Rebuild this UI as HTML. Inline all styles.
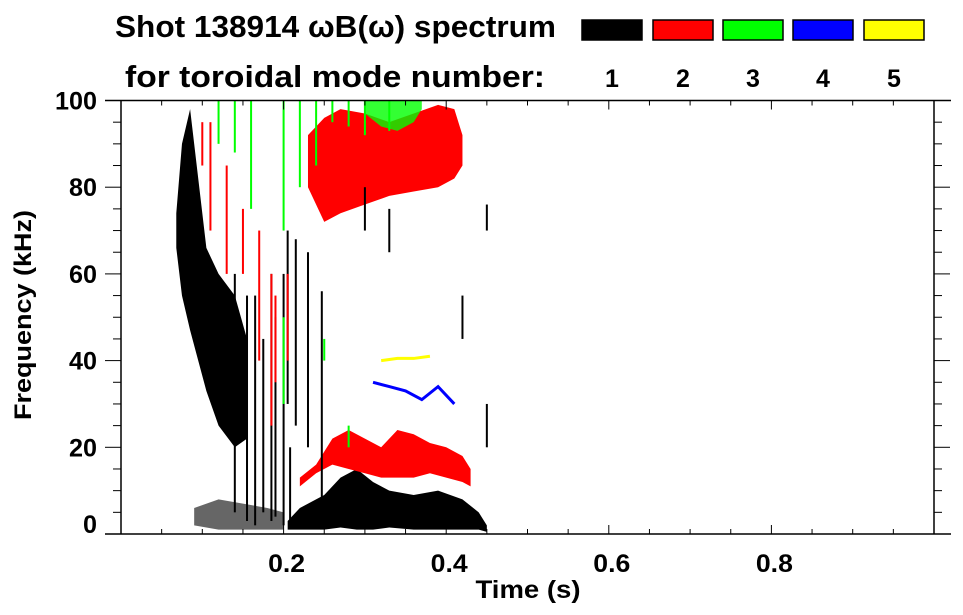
<!DOCTYPE html>
<html><head><meta charset="utf-8">
<style>
body{margin:0;background:#fff;}
svg{display:block;font-family:"Liberation Sans",sans-serif;font-weight:bold;}
</style></head>
<body>
<svg id="chart" width="963" height="615" viewBox="0 0 963 615">
<text x="115" y="37" font-size="31" textLength="441" lengthAdjust="spacingAndGlyphs">Shot 138914 ωB(ω) spectrum</text>
<text x="125" y="87" font-size="31" textLength="420" lengthAdjust="spacingAndGlyphs">for toroidal mode number:</text>
<g id="legend"></g>
<g id="marks"></g>
<g id="axes"></g>
<text x="528" y="598" font-size="25" text-anchor="middle" textLength="105" lengthAdjust="spacingAndGlyphs">Time (s)</text>
<text transform="translate(31,315) rotate(-90)" font-size="24" text-anchor="middle" textLength="210" lengthAdjust="spacingAndGlyphs">Frequency (kHz)</text>
</svg>
<script>
const modes = ['1','2','3','4','5'];
const modeColors = ['#000000','#ff0000','#00ff00','#0000ff','#ffff00'];
const xTicks = [0.2,0.4,0.6,0.8];
const yTicks = [0,20,40,60,80,100];
// band regions: mode index, times, lower freq, upper freq
const bandMode = [0,0,0,1,1,2];
const bandT = [
 [0.068,0.075,0.085,0.095,0.105,0.12,0.14,0.155],
 [0.205,0.22,0.25,0.27,0.29,0.31,0.33,0.36,0.39,0.42,0.44,0.45],
 [0.09,0.12,0.15,0.18,0.2],
 [0.23,0.25,0.27,0.30,0.33,0.36,0.39,0.41,0.42],
 [0.22,0.24,0.26,0.28,0.30,0.32,0.34,0.36,0.38,0.40,0.42,0.43],
 [0.30,0.32,0.34,0.36,0.37]
];
const bandLo = [
 [66,55,47,40,33,25,20,22],
 [1,1,1,1.5,1,1,1.5,1,1,1,1,0.5],
 [2,1,1,1,1],
 [80,72,74,76,78,79,80,82,85],
 [11,14,16,15,14,13,13,13,14,13,12,11],
 [97,94,93,95,98]
];
const bandHi = [
 [74,90,98,82,66,60,55,45],
 [3,6,9,13,15,12,10,9,10,8,5,2],
 [6,8,7,6,5],
 [92,96,98,97,95,97,99,98,92],
 [13,16,22,24,22,20,24,23,21,20,18,15],
 [100,100,100,100,100]
];
const bandOpacity = [1,1,0.6,1,1,0.8];
// vertical streaks
const streakMode = [0,0,0,0,0,0,0,0,0,0,0,0,0,0,0,0,0, 1,1,1,1,1,1,1,1, 2,2,2,2,2,2,2,2,2,2,2,2,2];
const streakT =  [0.14,0.155,0.165,0.175,0.185,0.19,0.2,0.205,0.247,0.208,0.3,0.33,0.42,0.45,0.45,0.23,0.215, 0.1,0.11,0.13,0.15,0.17,0.185,0.19,0.205, 0.12,0.14,0.16,0.2,0.22,0.24,0.26,0.28,0.3,0.33,0.2,0.25,0.28];
const streakLo = [5,3,2,5,3,4,2,30,4,3,70,65,45,20,70,20,25, 85,70,60,60,40,25,35,40, 90,88,75,70,80,85,95,94,92,93,30,40,20];
const streakHi = [60,55,55,45,60,50,60,70,56,20,80,75,55,30,76,65,68, 95,95,85,75,70,60,55,60, 100,100,100,100,100,100,100,100,100,100,50,45,25];
// thin mode lines
const lineMode = [3,4];
const lineT = [[0.31,0.33,0.35,0.37,0.39,0.41],[0.32,0.34,0.36,0.38]];
const lineF = [[35,34,33,31,34,30],[40,40.5,40.5,41]];

const L=121,R=934,T=100.5,B=534,xmax=1.0,ymax=100;
const X=t=>L+(R-L)*t/xmax, Y=f=>B-(B-T)*f/ymax;
const NS='http://www.w3.org/2000/svg';
function mk(tag,attrs,parent){const e=document.createElementNS(NS,tag);for(const k in attrs)e.setAttribute(k,attrs[k]);parent.appendChild(e);return e;}
const marks=document.getElementById('marks'), axes=document.getElementById('axes'), legend=document.getElementById('legend');

bandT.forEach((ts,i)=>{
  const pts=ts.map((t,j)=>X(t)+','+Y(bandHi[i][j])).concat(ts.slice().reverse().map((t,j)=>X(t)+','+Y(bandLo[i][ts.length-1-j])));
  const p=mk('polygon',{points:pts.join(' '),fill:modeColors[bandMode[i]],opacity:bandOpacity[i]},marks);
  
  
});
streakT.forEach((t,i)=>{
  const r=mk('rect',{x:X(t)-1,y:Y(streakHi[i]),width:2,height:Y(streakLo[i])-Y(streakHi[i]),fill:modeColors[streakMode[i]]},marks);
  
  
});
lineT.forEach((ts,i)=>{
  const p=mk('polyline',{points:ts.map((t,j)=>X(t)+','+Y(lineF[i][j])).join(' '),fill:'none',stroke:modeColors[lineMode[i]],'stroke-width':3},marks);
  
  
});

// frame
mk('line',{x1:105,y1:T,x2:951,y2:T,stroke:'#000','stroke-width':1.5},axes);
mk('line',{x1:105,y1:B,x2:951,y2:B,stroke:'#000','stroke-width':1.5},axes);
mk('line',{x1:L,y1:T,x2:L,y2:B,stroke:'#000','stroke-width':1.5},axes);
mk('line',{x1:R,y1:T,x2:R,y2:B,stroke:'#000','stroke-width':1.5},axes);
for(let k=1;k<20;k++){const t=k*0.05,x=X(t),maj=(k%4===0);const len=maj?9:5;
  mk('line',{x1:x,y1:B,x2:x,y2:B-len,stroke:'#000','stroke-width':1},axes);
  mk('line',{x1:x,y1:T,x2:x,y2:T+len,stroke:'#000','stroke-width':1},axes);}
for(let k=1;k<20;k++){const f=k*5,y=Y(f),maj=(k%4===0);const len=maj?16:8;
  mk('line',{x1:L,y1:y,x2:L-len,y2:y,stroke:'#000','stroke-width':1},axes);
  mk('line',{x1:R,y1:y,x2:R+len,y2:y,stroke:'#000','stroke-width':1},axes);}
xTicks.forEach(t=>{const e=mk('text',{x:X(t)+3,y:572,'font-size':25,'text-anchor':'middle',textLength:37,lengthAdjust:'spacingAndGlyphs'},axes);e.textContent=t.toFixed(1);
  
  });
yTicks.forEach(f=>{let y=Y(f)+9;if(f===0)y=Y(f)-1;
  const s=String(f);
  const e=mk('text',{x:97,y:y,'font-size':25,'text-anchor':'end',textLength:14*s.length,lengthAdjust:'spacingAndGlyphs'},axes);e.textContent=s;
  
  });
// legend
const lx=[582,653,723,793,864];
modes.forEach((m,i)=>{
  const r=mk('rect',{x:lx[i],y:20,width:60,height:20,fill:modeColors[i],stroke:'#000','stroke-width':1.5},legend);
  
  
  const t=mk('text',{x:lx[i]+30,y:87,'font-size':25,'text-anchor':'middle'},legend);t.textContent=m;
  
  
});
</script>
</body></html>
